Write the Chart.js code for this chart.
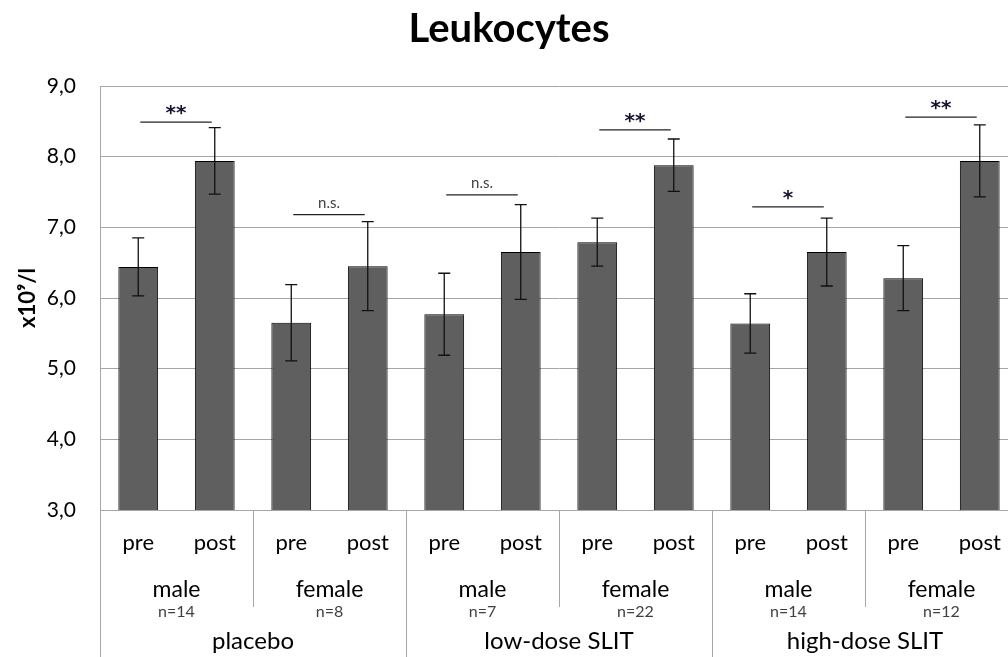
<!DOCTYPE html>
<html>
<head>
<meta charset="utf-8">
<script src="https://cdn.jsdelivr.net/npm/chart.js@4.4.1/dist/chart.umd.min.js"></script>
<style>
  html, body { margin: 0; padding: 0; overflow: hidden; background: #fff; }
  #wrap { width: 1030px; height: 657px; position: relative; }
</style>
</head>
<body>
<div id="wrap"><canvas id="myChart"></canvas></div>
<script>
const timeLabels = ['pre', 'post', 'pre', 'post', 'pre', 'post', 'pre', 'post', 'pre', 'post', 'pre', 'post'];
const sexLabels = ['male', 'female', 'male', 'female', 'male', 'female'];
const nLabels = ['n=14', 'n=8', 'n=7', 'n=22', 'n=14', 'n=12'];
const groupLabels = ['placebo', 'low-dose SLIT', 'high-dose SLIT'];
const means = [6.44, 7.94, 5.65, 6.45, 5.77, 6.65, 6.79, 7.88, 5.64, 6.65, 6.28, 7.94];
const errors = [0.41, 0.47, 0.54, 0.63, 0.58, 0.67, 0.34, 0.37, 0.42, 0.48, 0.46, 0.51];
const sigLabels = ['**', 'n.s.', 'n.s.', '**', '*', '**'];
const sigLevels = [8.49, 7.18, 7.46, 8.38, 7.29, 8.56];

const FONT = 'Lato, "Open Sans", sans-serif';
const GRID = '#a6a6a6';

// error bars, significance brackets and the three-level category axis
const annotations = {
  id: 'annotations',
  afterDatasetsDraw(chart) {
    const { ctx, scales: { x, y } } = chart;
    const meta = chart.getDatasetMeta(0);
    ctx.save();
    ctx.strokeStyle = '#111';
    ctx.lineWidth = 1.3;
    meta.data.forEach((bar, i) => {
      const top = y.getPixelForValue(means[i] + errors[i]);
      const bot = y.getPixelForValue(means[i] - errors[i]);
      ctx.beginPath();
      ctx.moveTo(bar.x, top); ctx.lineTo(bar.x, bot);
      ctx.moveTo(bar.x - 6, top); ctx.lineTo(bar.x + 6, top);
      ctx.moveTo(bar.x - 6, bot); ctx.lineTo(bar.x + 6, bot);
      ctx.stroke();
    });

    ctx.strokeStyle = '#222';
    ctx.textAlign = 'center';
    ctx.textBaseline = 'alphabetic';
    sigLabels.forEach((s, k) => {
      const x1 = x.getPixelForValue(2 * k) + 2;
      const x2 = x.getPixelForValue(2 * k + 1) - 3;
      const yy = y.getPixelForValue(sigLevels[k]);
      ctx.beginPath();
      ctx.moveTo(x1, yy); ctx.lineTo(x2, yy);
      ctx.stroke();
      if (s === 'n.s.') {
        ctx.font = '15px ' + FONT;
        ctx.fillStyle = '#404040';
        ctx.fillText(s, (x1 + x2) / 2, yy - 7);
      } else {
        ctx.font = 'bold 20px "DejaVu Sans", sans-serif';
        ctx.fillStyle = '#14142e';
        ctx.fillText(s, (x1 + x2) / 2, yy - 3);
      }
    });
    ctx.restore();
  },
  afterDraw(chart) {
    const { ctx, chartArea, scales: { x } } = chart;
    const step = (chartArea.right - chartArea.left) / timeLabels.length;
    const bottom = chart.height;
    ctx.save();
    ctx.strokeStyle = GRID;
    ctx.lineWidth = 1;
    for (let j = 0; j <= 6; j++) {
      const px = Math.round(chartArea.left + j * 2 * step) + 0.5;
      ctx.beginPath();
      ctx.moveTo(px, chartArea.bottom);
      ctx.lineTo(px, j % 2 === 0 ? bottom : chartArea.bottom + 97);
      ctx.stroke();
    }
    ctx.fillStyle = '#000';
    ctx.textAlign = 'center';
    ctx.textBaseline = 'middle';
    ctx.font = '22px ' + FONT;
    timeLabels.forEach((t, i) => ctx.fillText(t, x.getPixelForValue(i), chartArea.bottom + 33));
    sexLabels.forEach((t, k) => {
      const cx = chartArea.left + (2 * k + 1) * step;
      ctx.font = '23px ' + FONT;
      ctx.fillStyle = '#000';
      ctx.fillText(t, cx, chartArea.bottom + 80);
      ctx.font = '16px ' + FONT;
      ctx.fillStyle = '#404040';
      ctx.fillText(nLabels[k], cx, chartArea.bottom + 102);
    });
    ctx.font = '24px ' + FONT;
    ctx.fillStyle = '#000';
    groupLabels.forEach((t, g) => {
      const cx = chartArea.left + (4 * g + 2) * step;
      ctx.fillText(t, cx, chartArea.bottom + 131);
    });
    ctx.restore();
  }
};

const chartEl = document.getElementById('myChart');
if (chartEl) {
  const ctx = chartEl.getContext('2d');
  new Chart(ctx, {
    type: 'bar',
    data: {
      labels: timeLabels,
      datasets: [{
        label: 'Leukocytes',
        data: means,
        backgroundColor: '#5f5f5f',
        borderColor: '#000',
        borderWidth: 1,
        barPercentage: 0.52,
        categoryPercentage: 1
      }]
    },
    options: {
      responsive: true,
      maintainAspectRatio: false,
      animation: false,
      layout: { padding: { left: 0, right: 12, top: 0, bottom: 139 } },
      plugins: {
        legend: { display: false },
        tooltip: { enabled: false },
        title: {
          display: true,
          text: 'Leukocytes',
          color: '#000',
          font: { family: FONT, size: 40, weight: 'bold' },
          padding: { top: 5, bottom: 33 }
        }
      },
      scales: {
        x: {
          ticks: { display: false },
          grid: { display: false },
          border: { display: true, color: GRID }
        },
        y: {
          min: 3, max: 9,
          afterFit(scale) { scale.width = 100; },
          ticks: {
            stepSize: 1,
            color: '#000',
            padding: 24,
            font: { family: FONT, size: 21 },
            callback: v => v.toFixed(1).replace('.', ',')
          },
          grid: { color: GRID, drawTicks: false },
          border: { display: true, color: GRID },
          title: {
            display: true,
            text: 'x10⁹/l',
            color: '#000',
            font: { family: FONT, size: 22, weight: 'bold' },
            padding: { top: 15, bottom: 0 }
          }
        }
      }
    },
    plugins: [annotations]
  });
}
</script>
</body>
</html>
